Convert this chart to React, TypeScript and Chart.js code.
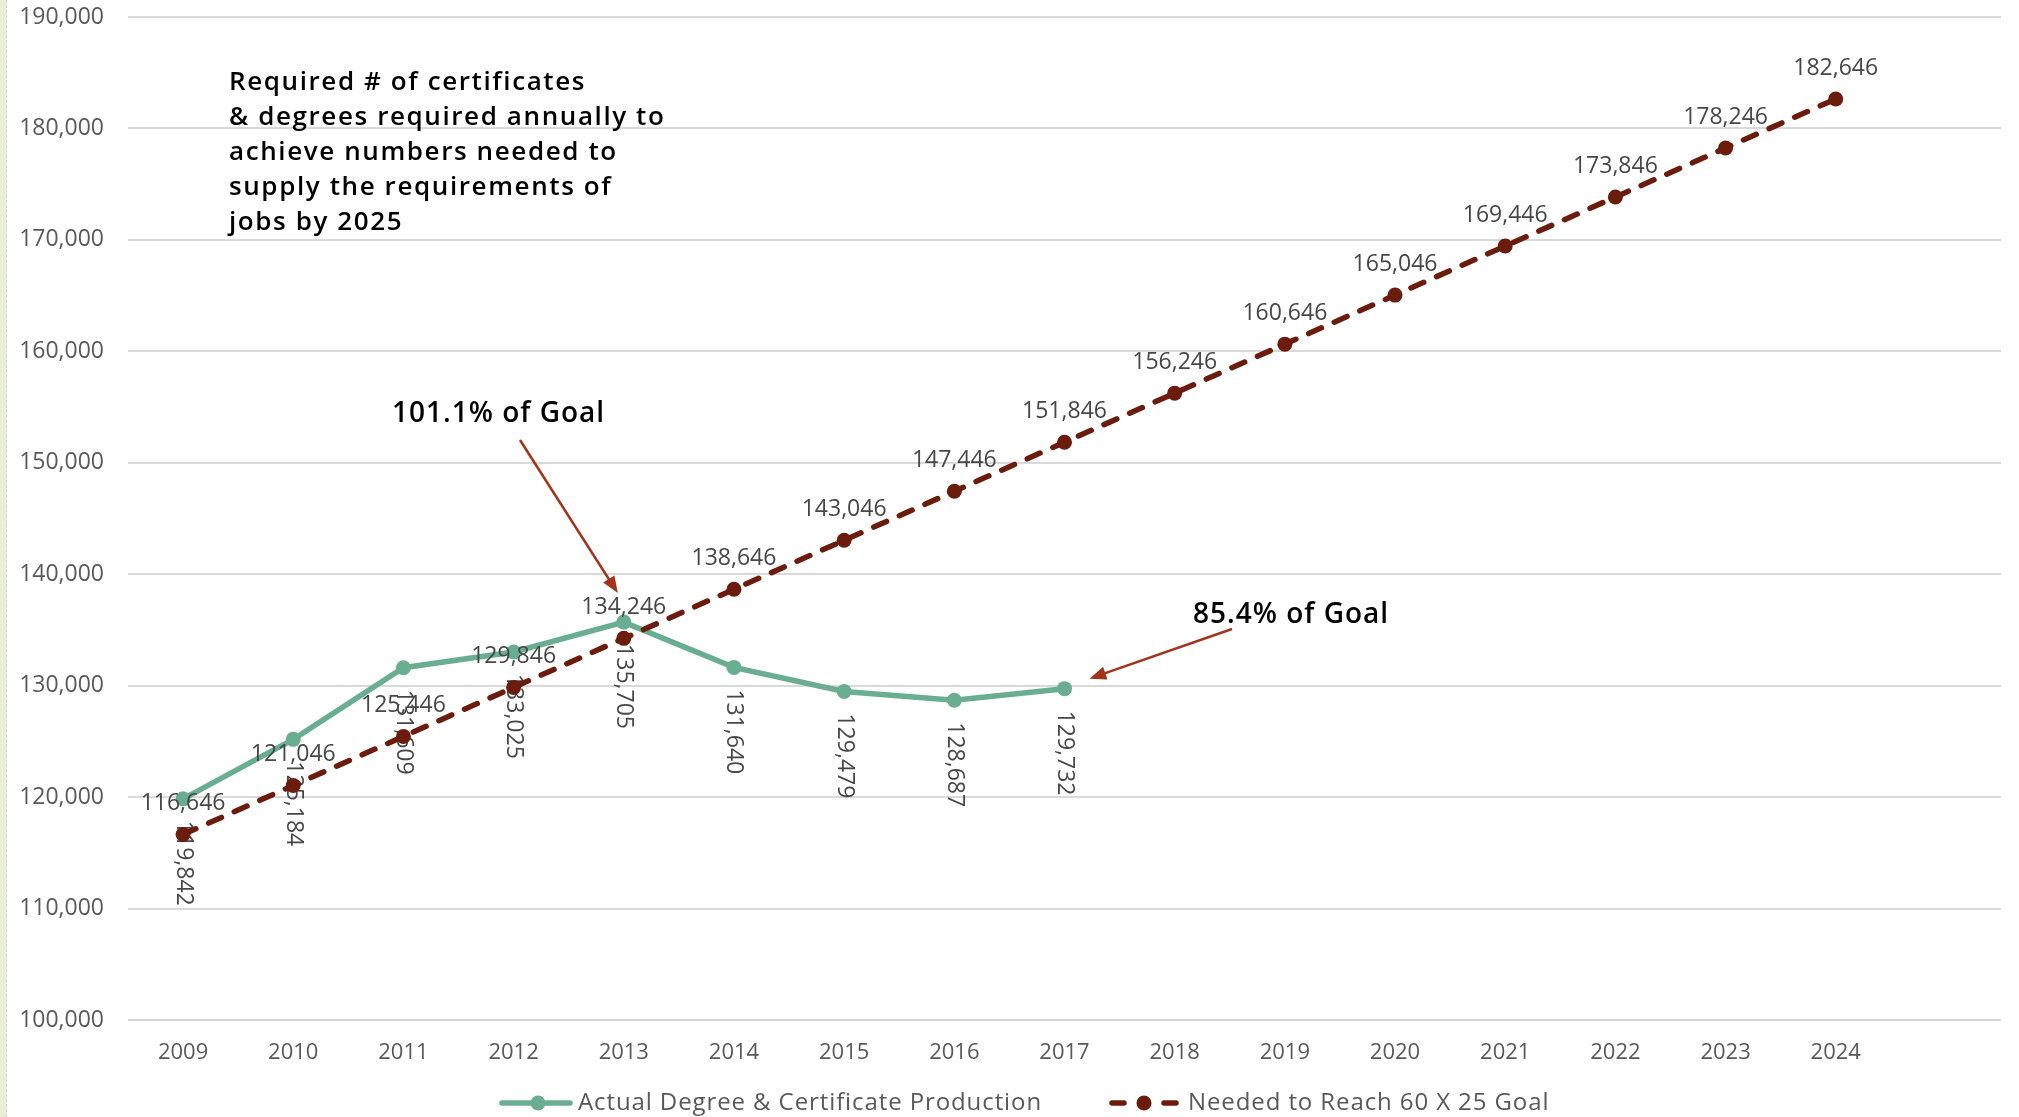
import React, { useEffect, useRef } from "react";
import { Chart, registerables } from "chart.js";

Chart.register(...registerables);

// Years on the category axis (the last slot is left blank for spacing)
const years = [
  "2009", "2010", "2011", "2012", "2013", "2014", "2015", "2016",
  "2017", "2018", "2019", "2020", "2021", "2022", "2023", "2024", "",
];

// Actual degree & certificate production
const actualProduction = [
  119842, 125184, 131609, 133025, 135705, 131640, 129479, 128687, 129732,
];

// Needed to reach the 60 x 25 goal
const neededForGoal = [
  116646, 121046, 125446, 129846, 134246, 138646, 143046, 147446,
  151846, 156246, 160646, 165046, 169446, 173846, 178246, 182646,
];

const yMin = 100000;
const yMax = 190000;
const yStep = 10000;

const seriesNames = [
  "Actual Degree & Certificate Production",
  "Needed to Reach 60 X 25 Goal",
];

const noteLines = [
  "Required # of certificates",
  "& degrees required annually to",
  "achieve numbers needed to",
  "supply the requirements of",
  "jobs by 2025",
];

const goalNotes = [
  { text: "101.1% of Goal", index: 4 },
  { text: "85.4% of Goal", index: 8 },
];

const GREEN = "#6aae91";
const BROWN = "#6b1c0d";
const ARROW = "#a3331a";
const TICK = "#595959";
const LABEL = "#474747";
const FONT = "'Open Sans', 'Noto Sans', sans-serif";

const fmt = (v: number) => v.toLocaleString("en-US");

const drawArrow = (
  ctx: CanvasRenderingContext2D,
  x1: number, y1: number, x2: number, y2: number
) => {
  const ang = Math.atan2(y2 - y1, x2 - x1);
  const head = 18;
  const wing = 0.38;
  ctx.save();
  ctx.strokeStyle = ARROW;
  ctx.fillStyle = ARROW;
  ctx.lineWidth = 2.5;
  ctx.beginPath();
  ctx.moveTo(x1, y1);
  ctx.lineTo(x2 - Math.cos(ang) * head * 0.8, y2 - Math.sin(ang) * head * 0.8);
  ctx.stroke();
  ctx.beginPath();
  ctx.moveTo(x2, y2);
  ctx.lineTo(x2 - head * Math.cos(ang - wing), y2 - head * Math.sin(ang - wing));
  ctx.lineTo(x2 - head * Math.cos(ang + wing), y2 - head * Math.sin(ang + wing));
  ctx.closePath();
  ctx.fill();
  ctx.restore();
};

const setSpacing = (ctx: CanvasRenderingContext2D, px: number) => {
  (ctx as any).letterSpacing = `${px}px`;
};

// Value labels, callouts and the legend
const decorations = {
  id: "decorations",
  beforeDatasetsDraw(chart: any) {
    const ctx = chart.ctx as CanvasRenderingContext2D;
    const meta = chart.getDatasetMeta(0);
    ctx.save();
    ctx.font = `23px ${FONT}`;
    ctx.fillStyle = LABEL;
    ctx.textAlign = "left";
    ctx.textBaseline = "middle";
    meta.data.forEach((pt: any, i: number) => {
      const v = actualProduction[i];
      if (v == null) return;
      ctx.save();
      ctx.translate(pt.x, pt.y + 22);
      ctx.rotate(Math.PI / 2);
      ctx.fillText(fmt(v), 0, 0);
      ctx.restore();
    });
    ctx.restore();
  },
  afterDatasetsDraw(chart: any) {
    const ctx = chart.ctx as CanvasRenderingContext2D;
    const meta = chart.getDatasetMeta(1);
    ctx.save();
    ctx.font = `23px ${FONT}`;
    ctx.fillStyle = LABEL;
    ctx.textAlign = "center";
    ctx.textBaseline = "middle";
    meta.data.forEach((pt: any, i: number) => {
      const v = neededForGoal[i];
      if (v == null) return;
      ctx.fillText(fmt(v), pt.x, pt.y - 31);
    });
    ctx.restore();
  },
  afterDraw(chart: any) {
    const ctx = chart.ctx as CanvasRenderingContext2D;
    ctx.save();

    // Explanatory note
    ctx.fillStyle = "#000";
    ctx.font = `600 26px ${FONT}`;
    setSpacing(ctx, 1.6);
    ctx.textAlign = "left";
    ctx.textBaseline = "alphabetic";
    noteLines.forEach((line, i) => ctx.fillText(line, 229, 90 + i * 35));

    // Goal callouts with arrows to the actual-production points
    const actualMeta = chart.getDatasetMeta(0);
    ctx.font = `600 28px ${FONT}`;
    setSpacing(ctx, 1);
    const p1 = actualMeta.data[goalNotes[0].index];
    ctx.fillStyle = "#000";
    ctx.fillText(goalNotes[0].text, 392, 422);
    drawArrow(ctx, 520, 440, p1.x - 6, p1.y - 29);
    const p2 = actualMeta.data[goalNotes[1].index];
    ctx.fillStyle = "#000";
    ctx.fillText(goalNotes[1].text, 1193, 623);
    drawArrow(ctx, 1232, 629, p2.x + 25, p2.y - 10);

    // Legend
    const ly = 1103;
    ctx.font = `24px ${FONT}`;
    setSpacing(ctx, 0.9);
    ctx.textBaseline = "middle";
    const items = [
      { name: seriesNames[0], color: GREEN, dashed: false, x: 500 },
      { name: seriesNames[1], color: BROWN, dashed: true, x: 1110 },
    ];
    items.forEach((it) => {
      ctx.strokeStyle = it.color;
      ctx.fillStyle = it.color;
      ctx.lineWidth = 5.5;
      ctx.lineCap = "round";
      if (it.dashed) {
        ctx.beginPath();
        ctx.moveTo(it.x + 2, ly);
        ctx.lineTo(it.x + 14, ly);
        ctx.moveTo(it.x + 54, ly);
        ctx.lineTo(it.x + 66, ly);
        ctx.stroke();
      } else {
        ctx.beginPath();
        ctx.moveTo(it.x + 2, ly);
        ctx.lineTo(it.x + 70, ly);
        ctx.stroke();
      }
      ctx.beginPath();
      ctx.arc(it.x + (it.dashed ? 34 : 38), ly, 7.5, 0, Math.PI * 2);
      ctx.fill();
      ctx.fillStyle = TICK;
      ctx.textAlign = "left";
      ctx.fillText(it.name, it.x + 78, ly);
    });

    ctx.restore();
  },
};

export default function App() {
  const canvasRef = useRef<HTMLCanvasElement | null>(null);

  useEffect(() => {
    if (!canvasRef.current) return;
    const chart = new Chart(canvasRef.current, {
      type: "line",
      data: {
        labels: years,
        datasets: [
          {
            label: seriesNames[0],
            data: actualProduction,
            borderColor: GREEN,
            backgroundColor: GREEN,
            borderWidth: 5.5,
            pointRadius: 7.5,
            pointBorderWidth: 0,
            pointBackgroundColor: GREEN,
            tension: 0,
            order: 1,
          },
          {
            label: seriesNames[1],
            data: neededForGoal,
            borderColor: BROWN,
            backgroundColor: BROWN,
            borderWidth: 5.5,
            borderDash: [14, 14],
            borderCapStyle: "round",
            pointRadius: 7.5,
            pointBorderWidth: 0,
            pointBackgroundColor: BROWN,
            tension: 0,
            order: 0,
          },
        ],
      },
      options: {
        responsive: false,
        animation: false,
        layout: { padding: { top: 17, right: 18, bottom: 37, left: 0 } },
        plugins: {
          legend: { display: false },
          tooltip: { enabled: false },
        },
        scales: {
          x: {
            offset: true,
            grid: { display: false },
            border: { display: false },
            ticks: {
              color: TICK,
              font: { family: FONT, size: 22 },
              padding: 12,
              maxRotation: 0,
              autoSkip: false,
            },
            afterFit: (s: any) => {
              s.height = 60;
              s.paddingLeft = 0;
              s.paddingRight = 0;
            },
          },
          y: {
            min: yMin,
            max: yMax,
            grid: { color: "#d9d9d9", lineWidth: 2, drawTicks: false },
            border: { display: false },
            ticks: {
              stepSize: yStep,
              color: TICK,
              font: { family: FONT, size: 23 },
              padding: 24,
              callback: (v: any) => fmt(Number(v)),
            },
            afterFit: (s: any) => {
              s.width = 128;
              s.paddingTop = 0;
              s.paddingBottom = 0;
            },
          },
        },
      },
      plugins: [decorations],
    });
    return () => chart.destroy();
  }, []);

  return (
    <div
      style={{
        position: "fixed",
        left: 0,
        top: 0,
        width: 2019,
        height: 1117,
        background: "#fff",
        overflow: "hidden",
      }}
    >
      <div
        style={{
          position: "absolute",
          left: 0,
          top: 0,
          width: 6,
          height: 1117,
          background: "#e8eed8",
          borderRight: "1px dashed #d2d6c6",
        }}
      />
      <canvas
        ref={canvasRef}
        width={2019}
        height={1117}
        style={{ position: "absolute", left: 0, top: 0 }}
      />
    </div>
  );
}
